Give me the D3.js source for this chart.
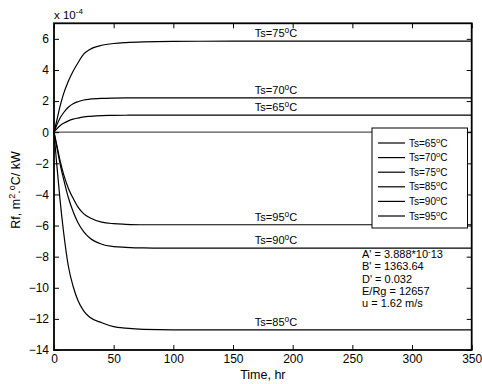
<!DOCTYPE html>
<html>
<head>
<meta charset="utf-8">
<script src="https://cdn.jsdelivr.net/npm/d3@7"></script>
<style>
  body { margin: 0; background: #fff; }
  svg { font-family: "Liberation Sans", Arial, sans-serif; }
  .axis path { display: none; }
  .axis line { stroke: #000; stroke-width: 1; }
  .axis text { font-size: 12px; fill: #000; }
</style>
</head>
<body>
<div id="chart"></div>
<script>
var times = [0, 2, 5, 8, 12, 16, 20, 25, 30, 40, 50, 60, 75, 100, 150, 200, 250, 300, 350];
var rf65 = [0, 0.18, 0.41, 0.57, 0.73, 0.84, 0.91, 0.98, 1.02, 1.07, 1.08, 1.09, 1.10, 1.10, 1.10, 1.10, 1.10, 1.10, 1.10];
var rf70 = [0, 0.40, 0.90, 1.25, 1.60, 1.83, 1.96, 2.07, 2.12, 2.17, 2.19, 2.20, 2.20, 2.20, 2.20, 2.20, 2.20, 2.20, 2.20];
var rf75 = [0, 0.64, 1.64, 2.46, 3.28, 3.92, 4.45, 5.03, 5.32, 5.59, 5.70, 5.76, 5.81, 5.84, 5.85, 5.85, 5.85, 5.85, 5.85];
var rf85 = [0, -1.8, -4.3, -6.4, -8.6, -9.9, -10.8, -11.5, -11.9, -12.25, -12.5, -12.6, -12.68, -12.7, -12.7, -12.7, -12.7, -12.7, -12.7];
var rf90 = [0, -0.8, -2.0, -3.0, -4.2, -5.1, -5.8, -6.4, -6.8, -7.2, -7.35, -7.4, -7.44, -7.45, -7.45, -7.45, -7.45, -7.45, -7.45];
var rf95 = [0, -0.7, -1.8, -2.7, -3.6, -4.25, -4.8, -5.25, -5.5, -5.78, -5.88, -5.92, -5.95, -5.95, -5.95, -5.95, -5.95, -5.95, -5.95];

var seriesNames = ["65", "70", "75", "85", "90", "95"];
var seriesValues = [rf65, rf70, rf75, rf85, rf90, rf95];
var labelTime = 186;

var xTicks = [0, 50, 100, 150, 200, 250, 300, 350];
var yTicks = [-14, -12, -10, -8, -6, -4, -2, 0, 2, 4, 6];

var paramLines = ["A' = 3.888*10", "B' = 1363.64", "D' = 0.032", "E/Rg = 12657", "u = 1.62 m/s"];

var width = 482, height = 384,
    plotLeft = 54, plotRight = 471.7, plotTop = 23.3, plotBottom = 350;

var x = d3.scaleLinear().domain([0, 350]).range([plotLeft, plotRight]);
var y = d3.scaleLinear().domain([-14, 7]).range([plotBottom, plotTop]);

var svg = d3.select("#chart").append("svg")
    .attr("width", width)
    .attr("height", height);

// zero line
svg.append("line")
    .attr("x1", x(0)).attr("x2", x(350))
    .attr("y1", y(0)).attr("y2", y(0))
    .attr("stroke", "#555").attr("stroke-width", 1.3);

var line = d3.line()
    .x(function(d) { return x(d[0]); })
    .y(function(d) { return y(d[1]); })
    .curve(d3.curveMonotoneX);

seriesValues.forEach(function(vals) {
  svg.append("path")
      .datum(times.map(function(t, i) { return [t, vals[i]]; }))
      .attr("d", line)
      .attr("fill", "none")
      .attr("stroke", "#000")
      .attr("stroke-width", 1.2);
});

// Ts=xx°C with a raised small "o"
function tsLabel(sel, name, size) {
  sel.append("tspan").text("Ts=" + name);
  sel.append("tspan").attr("dy", -4).attr("font-size", size * 0.75).text("o");
  sel.append("tspan").attr("dy", 4).text("C");
}

seriesValues.forEach(function(vals, k) {
  var last = vals[vals.length - 1];
  var t = svg.append("text")
      .attr("x", x(labelTime))
      .attr("y", y(last) - 4)
      .attr("text-anchor", "middle")
      .attr("font-size", 11);
  tsLabel(t, seriesNames[k], 11);
});

// axes, inward ticks on all four sides
svg.append("g").attr("class", "axis")
    .attr("transform", "translate(0," + plotBottom + ")")
    .call(d3.axisBottom(x).tickValues(xTicks).tickSizeInner(-5).tickSizeOuter(0).tickPadding(4));
svg.append("g").attr("class", "axis")
    .attr("transform", "translate(0," + plotTop + ")")
    .call(d3.axisTop(x).tickValues(xTicks).tickSizeInner(-5).tickSizeOuter(0).tickFormat(""));
svg.append("g").attr("class", "axis")
    .attr("transform", "translate(" + plotLeft + ",0)")
    .call(d3.axisLeft(y).tickValues(yTicks).tickSizeInner(-5).tickSizeOuter(0).tickPadding(5));
svg.append("g").attr("class", "axis")
    .attr("transform", "translate(" + plotRight + ",0)")
    .call(d3.axisRight(y).tickValues(yTicks).tickSizeInner(-5).tickSizeOuter(0).tickFormat(""));

svg.append("rect")
    .attr("x", plotLeft).attr("y", plotTop)
    .attr("width", plotRight - plotLeft).attr("height", plotBottom - plotTop)
    .attr("fill", "none").attr("stroke", "#000").attr("stroke-width", 1.8);

// exponent
var ex = svg.append("text").attr("x", 54).attr("y", 19).attr("font-size", 11.5);
ex.append("tspan").text("x 10");
ex.append("tspan").attr("dy", -5).attr("font-size", 8).text("-4");

// axis titles
svg.append("text")
    .attr("x", (plotLeft + plotRight) / 2).attr("y", 379)
    .attr("text-anchor", "middle").attr("font-size", 12.5)
    .text("Time, hr");

var yl = svg.append("text")
    .attr("transform", "translate(20,190) rotate(-90)")
    .attr("text-anchor", "middle").attr("font-size", 12.5);
yl.append("tspan").text("Rf, m");
yl.append("tspan").attr("dy", -5).attr("font-size", 9).text("2");
yl.append("tspan").attr("dy", 5).text(".");
yl.append("tspan").attr("dy", -5).attr("font-size", 9).text("o");
yl.append("tspan").attr("dy", 5).text("C/ kW");

// legend
var lg = svg.append("g").attr("transform", "translate(372,128)");
lg.append("rect")
    .attr("width", 95.5).attr("height", 100)
    .attr("fill", "#fff").attr("stroke", "#000").attr("stroke-width", 1);
seriesNames.forEach(function(name, i) {
  var yy = 15 + i * 14.6;
  lg.append("line")
      .attr("x1", 6).attr("x2", 33)
      .attr("y1", yy).attr("y2", yy)
      .attr("stroke", "#000").attr("stroke-width", 1.2);
  var t = lg.append("text")
      .attr("x", 37).attr("y", yy + 3.5)
      .attr("font-size", 10);
  tsLabel(t, name, 10);
});

// parameter text
var params = svg.append("g").attr("font-size", 11);
paramLines.forEach(function(s, i) {
  var t = params.append("text").attr("x", 362).attr("y", 258 + i * 12.3);
  t.append("tspan").text(s);
  if (i === 0) {
    t.append("tspan").attr("dy", -4).attr("font-size", 8).text("-");
    t.append("tspan").attr("dy", 4).text("13");
  }
});
</script>
</body>
</html>
